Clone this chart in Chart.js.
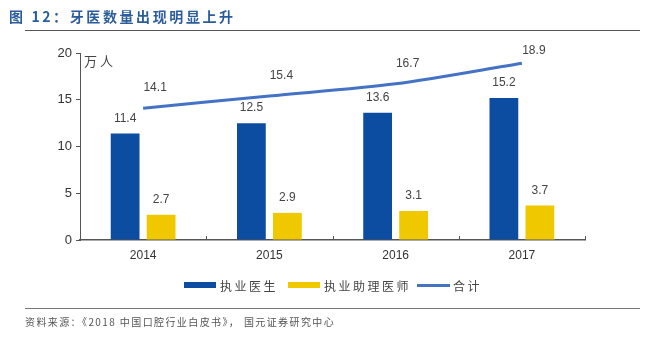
<!DOCTYPE html>
<html>
<head>
<meta charset="utf-8">
<script src="https://cdn.jsdelivr.net/npm/chart.js@4.4.0/dist/chart.umd.min.js"></script>
<style>
  body { margin: 0; background: #fff; font-family: "Noto Sans CJK SC", "Liberation Sans", sans-serif; }
  #wrap { position: relative; width: 653px; height: 338px; overflow: hidden; }
  #chart { position: absolute; left: 0; top: 0; }
  .title { position: absolute; left: 9px; top: 6px; font-size: 14px; font-weight: bold; color: #2B5C9C; letter-spacing: 2.6px; }
  .rule { position: absolute; left: 25px; width: 615px; height: 1px; background: #555; }
  .source { position: absolute; left: 25px; top: 314px; font-size: 10px; color: #555; letter-spacing: 1.4px; }
  .legend { position: absolute; top: 277px; left: 0; width: 653px; font-size: 12px; color: #444; }
  .legend span { position: absolute; white-space: nowrap; letter-spacing: 2.5px; }
  .legend i { position: absolute; display: block; }
</style>
</head>
<body>
<div id="wrap">
  <canvas id="chart" width="653" height="338"></canvas>
  <div class="title">图 12：牙医数量出现明显上升</div>
  <div class="rule" style="top:30px"></div>
  <div class="legend">
    <i style="left:184px;top:5px;width:32px;height:6px;background:#0C4DA2"></i>
    <span style="left:220px;top:0">执业医生</span>
    <i style="left:288px;top:5px;width:32px;height:6px;background:#F0C800"></i>
    <span style="left:324px;top:0">执业助理医师</span>
    <i style="left:417px;top:7px;width:33px;height:3px;background:#4472C4"></i>
    <span style="left:453px;top:0">合计</span>
  </div>
  <div class="rule" style="top:308px;background:#777"></div>
  <div class="source">资料来源：《2018 中国口腔行业白皮书》， 国元证券研究中心</div>
</div>
<script>
// --- data ---
const years = ['2014', '2015', '2016', '2017'];
const doctors = [11.4, 12.5, 13.6, 15.2];      // 执业医生
const assistants = [2.7, 2.9, 3.1, 3.7];       // 执业助理医师
const totals = [14.1, 15.4, 16.7, 18.9];       // 合计
const yTicks = [0, 5, 10, 15, 20];

const labelFont = '12px "Liberation Sans", Arial, sans-serif';

// value labels above bars and line points
const valueLabels = {
    id: 'valueLabels',
    afterDatasetsDraw(chart) {
        const ctx = chart.ctx;
        ctx.save();
        ctx.font = labelFont;
        ctx.fillStyle = '#444';
        ctx.textAlign = 'center';
        ctx.textBaseline = 'middle';
        chart.data.datasets.forEach((ds, i) => {
            const meta = chart.getDatasetMeta(i);
            meta.data.forEach((el, j) => {
                const txt = ds.data[j].toFixed(1);
                if (ds.type === 'line') {
                    ctx.fillText(txt, el.x + 12, Math.max(el.y - 20, 51));
                } else {
                    ctx.fillText(txt, el.x, el.y - 15);
                }
            });
        });
        ctx.restore();
    }
};

// small inward tick marks on the x axis between categories
const xTickMarks = {
    id: 'xTickMarks',
    afterDraw(chart) {
        const x = chart.scales.x;
        const ctx = chart.ctx;
        const step = x.getPixelForValue(1) - x.getPixelForValue(0);
        ctx.save();
        ctx.strokeStyle = '#555';
        ctx.lineWidth = 1;
        for (let i = 1; i <= years.length; i++) {
            const px = Math.round(x.getPixelForValue(i - 1) + step / 2) + 0.5;
            ctx.beginPath();
            ctx.moveTo(px, x.top);
            ctx.lineTo(px, x.top - 4);
            ctx.stroke();
        }
        // unit label
        ctx.font = '13px "Noto Sans CJK SC", sans-serif';
        ctx.fillStyle = '#444';
        ctx.textBaseline = 'middle';
        ctx.fillText('万 人', chart.chartArea.left + 4, chart.chartArea.top + 8);
        ctx.restore();
    }
};

new Chart(document.getElementById('chart'), {
    type: 'bar',
    data: {
        labels: years,
        datasets: [
            {
                type: 'line',
                label: '合计',
                data: totals,
                borderColor: '#4472C4',
                backgroundColor: '#4472C4',
                borderWidth: 3,
                pointRadius: 0,
                tension: 0.3,
                order: 0
            },
            {
                label: '执业医生',
                data: doctors,
                backgroundColor: '#0C4DA2',
                categoryPercentage: 0.57,
                barPercentage: 0.8,
                order: 1
            },
            {
                label: '执业助理医师',
                data: assistants,
                backgroundColor: '#F0C800',
                categoryPercentage: 0.57,
                barPercentage: 0.8,
                order: 1
            }
        ]
    },
    options: {
        responsive: false,
        animation: false,
        layout: { padding: { left: 0, top: 53, right: 68, bottom: 76 } },
        plugins: {
            legend: { display: false },
            tooltip: { enabled: false }
        },
        scales: {
            x: {
                grid: { display: false },
                border: { color: '#555', width: 1.5 },
                ticks: { color: '#333', font: { family: '"Liberation Sans", Arial, sans-serif', size: 12 }, padding: 0 },
                afterFit(scale) { scale.height = 22; }
            },
            y: {
                min: 0,
                max: 20,
                afterBuildTicks(scale) { scale.ticks = yTicks.map(v => ({ value: v })); },
                grid: { drawOnChartArea: false, color: '#555', tickLength: 4 },
                border: { color: '#555', width: 1 },
                ticks: { color: '#333', font: { family: '"Liberation Sans", Arial, sans-serif', size: 13 }, padding: 4 },
                afterFit(scale) { scale.width = 80; }
            }
        }
    },
    plugins: [valueLabels, xTickMarks]
});
</script>
</body>
</html>
